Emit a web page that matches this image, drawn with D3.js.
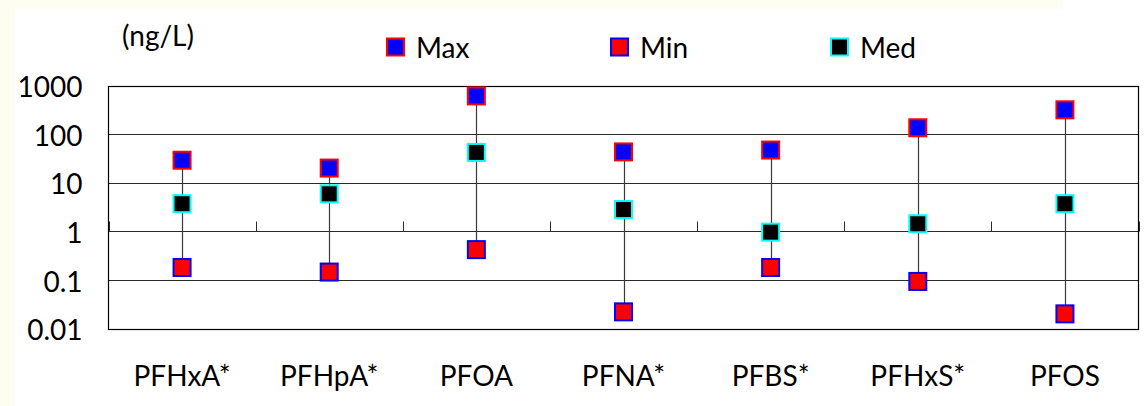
<!DOCTYPE html>
<html>
<head>
<meta charset="utf-8">
<script src="https://cdn.jsdelivr.net/npm/d3@7"></script>
<style>
  html, body { margin: 0; padding: 0; background: #FEFDF1; }
  svg { display: block; }
  text { font-family: Lato, "Open Sans", sans-serif; fill: #000; }
</style>
</head>
<body>
<svg id="chart" width="1147" height="406"></svg>
<script>
const categories = ["PFHxA*", "PFHpA*", "PFOA", "PFNA*", "PFBS*", "PFHxS*", "PFOS"];
const maxValues = [29, 20, 610, 43, 47, 135, 316];
const minValues = [0.18, 0.145, 0.42, 0.022, 0.18, 0.093, 0.020];
const medValues = [3.7, 5.9, 42, 2.8, 0.96, 1.43, 3.7];
const yTicks = [0.01, 0.1, 1, 10, 100, 1000];
const yTickLabels = ["0.01", "0.1", "1", "10", "100", "1000"];
const seriesNames = ["Max", "Min", "Med"];
const unitLabel = "(ng/L)";

const styles = {
  Max: { fill: "#0000FF", stroke: "#FF0000" },
  Min: { fill: "#FF0000", stroke: "#0000FF" },
  Med: { fill: "#000000", stroke: "#00FFFF" }
};

(function () {
const svg = d3.select("#chart");
const W = 1147, H = 406;
svg.append("rect").attr("x", 15).attr("y", 9).attr("width", W - 15).attr("height", H - 9).attr("fill", "#FFFFFF");
svg.append("rect").attr("x", 1063).attr("y", 0).attr("width", W - 1063).attr("height", 9).attr("fill", "#FFFFFF");

const pLeft = 108.5, pRight = 1138.5, pTop = 85.5, pBottom = 328.5;
const x = d3.scaleBand().domain(categories).range([pLeft, pRight]).paddingInner(0).paddingOuter(0);
const y = d3.scaleLog().domain([0.01, 1000]).range([pBottom, pTop]);

const fontSize = 28;

const g = svg.append("g");
g.selectAll("line.grid").data(yTicks).enter().append("line")
  .attr("class", "grid")
  .attr("x1", pLeft).attr("x2", pRight)
  .attr("y1", d => Math.round(y(d)) + 0.5).attr("y2", d => Math.round(y(d)) + 0.5)
  .attr("stroke", "#2a2a2a").attr("stroke-width", 1);

g.append("rect").attr("x", pLeft).attr("y", Math.round(y(1000)) + 0.5)
  .attr("width", pRight - pLeft).attr("height", Math.round(y(0.01)) - Math.round(y(1000)))
  .attr("fill", "none").attr("stroke", "#000").attr("stroke-width", 1.2);

const yAxis = d3.axisLeft(y).tickValues(yTicks).tickFormat((d, i) => yTickLabels[i]).tickSize(0).tickPadding(26);
const ya = svg.append("g").attr("transform", `translate(${pLeft},0)`).call(yAxis);
ya.select(".domain").remove();
ya.selectAll("text").attr("font-size", fontSize).attr("font-family", "Lato, sans-serif").attr("fill", "#000").attr("dy", "0.4em");

const axisY = Math.round(y(1)) + 0.5;
const boundaries = d3.range(categories.length + 1).map(i => pLeft + i * x.step());
g.selectAll("line.tick").data(boundaries).enter().append("line")
  .attr("class", "tick")
  .attr("x1", d => Math.round(d) + 0.5).attr("x2", d => Math.round(d) + 0.5)
  .attr("y1", axisY).attr("y2", axisY - 10)
  .attr("stroke", "#2a2a2a").attr("stroke-width", 1);

const xAxis = d3.axisBottom(x).tickSize(0).tickPadding(38);
const xa = svg.append("g").attr("transform", `translate(0,${pBottom})`).call(xAxis);
xa.select(".domain").remove();
xa.selectAll("text").attr("font-size", fontSize).attr("font-family", "Lato, sans-serif").attr("fill", "#000");

const cx = c => x(c) + x.bandwidth() / 2;
svg.append("g").selectAll("line").data(categories).enter().append("line")
  .attr("x1", d => Math.round(cx(d)) + 0.5).attr("x2", d => Math.round(cx(d)) + 0.5)
  .attr("y1", (d, i) => y(maxValues[i])).attr("y2", (d, i) => y(minValues[i]))
  .attr("stroke", "#3a3a3a").attr("stroke-width", 1.2);

const ms = 17;
const series = [
  { name: "Max", values: maxValues },
  { name: "Min", values: minValues },
  { name: "Med", values: medValues }
];
series.forEach(s => {
  svg.append("g").selectAll("rect").data(categories).enter().append("rect")
    .attr("x", d => cx(d) - ms / 2)
    .attr("y", (d, i) => y(s.values[i]) - ms / 2)
    .attr("width", ms).attr("height", ms)
    .attr("fill", styles[s.name].fill)
    .attr("stroke", styles[s.name].stroke)
    .attr("stroke-width", 2);
});

const legendX = [395.5, 619.5, 839.5];
const legendY = 47;
const lg = svg.append("g");
seriesNames.forEach((n, i) => {
  lg.append("rect").attr("x", legendX[i] - ms / 2).attr("y", legendY - ms / 2)
    .attr("width", ms).attr("height", ms)
    .attr("fill", styles[n].fill).attr("stroke", styles[n].stroke).attr("stroke-width", 2);
  lg.append("text").attr("x", legendX[i] + 20.5).attr("y", legendY + 11)
    .attr("font-size", fontSize).text(n);
});

svg.append("text").attr("x", 122).attr("y", 46).attr("font-size", fontSize).text(unitLabel);
})();
</script>
</body>
</html>
